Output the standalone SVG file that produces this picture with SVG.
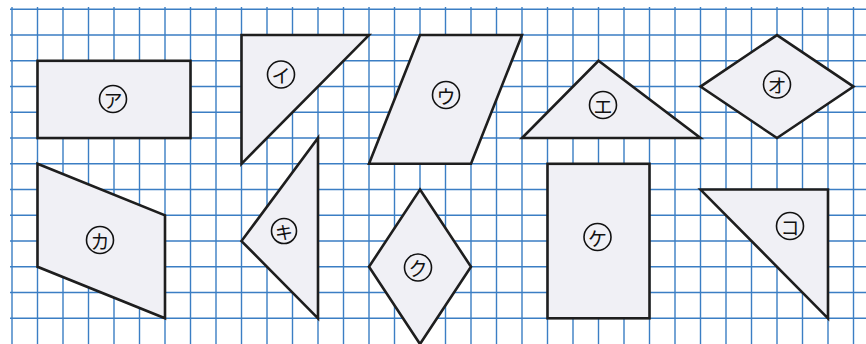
<svg xmlns="http://www.w3.org/2000/svg" width="866" height="344" viewBox="0 0 866 344">
<defs>
<style>
.g{stroke:#3b7ec4;stroke-width:1.4;fill:none}
.s{fill:#f0f0f5;stroke:#1e1e1e;stroke-width:2.6;stroke-linejoin:miter}
.c{fill:none;stroke:#111;stroke-width:1.6}
.t{font-family:"Noto Sans CJK JP","Noto Sans",sans-serif;font-size:19px;fill:#111;text-anchor:middle;dominant-baseline:central}
</style>
</defs>
<rect width="866" height="344" fill="#ffffff"/>
<g id="grid" class="g">
<path d="M12 7V344M37.5 7V344M63 7V344M88.5 7V344M114 7V344M139.5 7V344M165 7V344M190.5 7V344M216 7V344M241.5 7V344M267 7V344M292.5 7V344M318 7V344M343.5 7V344M369 7V344M394.5 7V344M420 7V344M445.5 7V344M471 7V344M496.5 7V344M522 7V344M547.5 7V344M573 7V344M598.5 7V344M624 7V344M649.5 7V344M675 7V344M700.5 7V344M726 7V344M751.5 7V344M777 7V344M802.5 7V344M828 7V344M853.5 7V344"/>
<path d="M10 9.3H866M10 35.05H866M10 60.8H866M10 86.55H866M10 112.3H866M10 138.05H866M10 163.8H866M10 189.55H866M10 215.3H866M10 241.05H866M10 266.8H866M10 292.55H866M10 318.3H866"/>
</g>
<g id="a"><rect class="s" x="37.5" y="60.8" width="153" height="77.25"/><circle class="c" cx="113" cy="99" r="13.5"/><text class="t" x="113" y="99">ア</text></g>
<g id="i"><polygon class="s" points="241.5,35.05 369,35.05 241.5,163.8"/><circle class="c" cx="281" cy="74.5" r="13.5"/><text class="t" x="281" y="74.5">イ</text></g>
<g id="u"><polygon class="s" points="420,35.05 522,35.05 471,163.8 369,163.8"/><circle class="c" cx="446" cy="95" r="13.5"/><text class="t" x="446" y="95">ウ</text></g>
<g id="e"><polygon class="s" points="522,138.05 700.5,138.05 598.5,60.8"/><circle class="c" cx="603" cy="105" r="13.5"/><text class="t" x="603" y="105">エ</text></g>
<g id="o"><polygon class="s" points="777,35.05 853.5,86.55 777,138.05 700.5,86.55"/><circle class="c" cx="777" cy="84.5" r="13.5"/><text class="t" x="777" y="84.5">オ</text></g>
<g id="ka"><polygon class="s" points="37.5,163.8 165,215.3 165,318.3 37.5,266.8"/><circle class="c" cx="100" cy="240" r="13.5"/><text class="t" x="100" y="240">カ</text></g>
<g id="ki"><polygon class="s" points="318,138.05 318,318.3 241.5,241.05"/><circle class="c" cx="284" cy="231" r="12.5"/><text class="t" x="284" y="231" style="font-size:18px">キ</text></g>
<g id="ku"><polygon class="s" points="420,189.55 471,266.8 420,344.05 369,266.8"/><circle class="c" cx="418" cy="267.5" r="13.5"/><text class="t" x="418" y="267.5">ク</text></g>
<g id="ke"><rect class="s" x="547.5" y="163.8" width="102" height="154.5"/><circle class="c" cx="597.5" cy="237" r="13.5"/><text class="t" x="597.5" y="237">ケ</text></g>
<g id="ko"><polygon class="s" points="700.5,189.55 828,189.55 828,318.3"/><circle class="c" cx="790" cy="226" r="13.5"/><text class="t" x="790" y="226">コ</text></g>
<g id="connectors"/>
</svg>
